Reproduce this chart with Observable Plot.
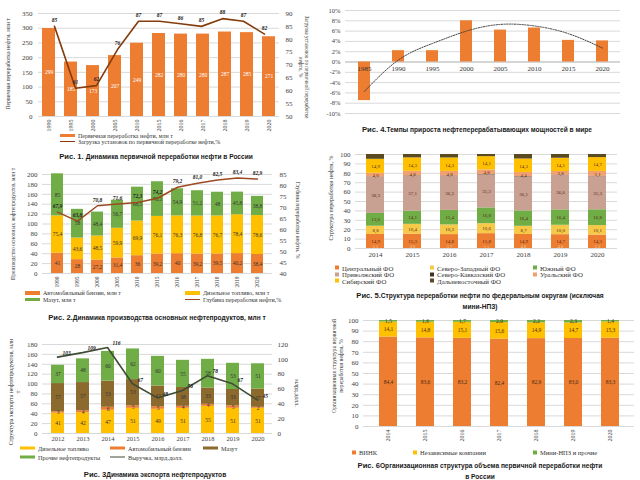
<!DOCTYPE html>
<html><head><meta charset="utf-8">
<script src="https://cdn.jsdelivr.net/npm/d3@7"></script>
<script src="https://cdn.jsdelivr.net/npm/@observablehq/plot@0.6"></script>
<style>
body{margin:0;background:#fff}
#root{position:relative;width:640px;height:480px;overflow:hidden;background:#fff;font-family:"Liberation Serif",serif}
</style></head><body><div id="root"></div><script>
// ---------- Fig. 1 ----------
const years1 = ["1990","1995","2000","2005","2010","2015","2016","2017","2018","2019","2020"];
const primary1 = [299,185,173,207,249,282,280,280,287,285,271];
const load1 = [85,61,62,76,87,87,86,85,88,87,82];
const legend1 = ["Первичная переработка нефти, млн т","Загрузка установок по первичной переработке нефти,%"];
// ---------- Fig. 4 ----------
const years4 = ["1985","1990","1995","2000","2005","2010","2015","2020"];
const growth4 = [-7.5,2.2,2.2,8.0,6.2,6.6,4.2,4.1];
const trend4 = [-5.7,0.4,3.6,6.0,7.3,7.0,5.5,2.7];
// ---------- Fig. 2 ----------
const years2 = ["1990","1995","2000","2005","2010","2015","2016","2017","2018","2019","2020"];
const gasoline2 = [41,28,27.2,31.4,36,39.2,40.0,39.2,39.5,40.2,38.4];
const diesel2 = [75.4,43.6,48.5,59.9,69.9,76.1,76.3,76.8,76.7,78.4,78.6];
const fuelOil2 = [85,58,48.4,56.7,68.5,70.1,54.9,51.2,48.0,45.8,38.8];
const depth2 = [67.9,63.8,70.8,71.6,72.3,74.2,79.2,81.0,82.5,83.4,82.9];
const series2 = ["Автомобильный бензин, млн т","Дизельное топливо, млн т","Мазут, млн т","Глубина переработки нефти,%"];
// ---------- Fig. 3 ----------
const years3 = ["2012","2013","2014","2015","2016","2017","2018","2019","2020"];
const diesel3 = [41,42,47,51,49,51,55,51,51];
const gasoline3 = [3,4,6,5,5,4,4,5,2];
const fuelOil3 = [57,57,53,53,42,38,33,33,37];
const other3 = [37,48,60,62,60,55,58,53,51];
const revenue3 = [103,109,116,67,48,58,78,67,45];
const series3 = ["Дизельное топливо","Автомобильный бензин","Мазут","Прочие нефтепродукты","Выручка, млрд.долл."];
// ---------- Fig. 5 ----------
const years5 = ["2014","2015","2016","2017","2018","2019","2020"];
const districts5 = ["Центральный ФО","Северо-Западный ФО","Южный ФО","Приволжский ФО","Северо-Кавказский ФО","Уральский ФО","Сибирский ФО","Дальневосточный ФО"];
const central5 = [14.9,15.3,14.8,15.8,14.9,14.7,14.3];
const northwest5 = [8.8,10.4,10.3,10.6,8.7,10.0,10.1];
const south5 = [13.6,14.1,15.4,16.8,16.4,16.4,16.8];
const volga5 = [38.3,37.1,36.3,35.2,36.1,36.6,35.3];
const caucasus5 = [0.4,0.4,0.4,0.4,0.4,0.4,0.4];
const ural5 = [4.0,4.8,4.8,4.8,4.4,3.8,5.1];
const siberia5 = [14.9,14.3,14.3,14.1,14.3,14.1,14.7];
const fareast5 = [5.1,3.6,3.7,2.3,4.8,4.0,3.3];
// ---------- Fig. 6 ----------
const years6 = ["2014","2015","2016","2017","2018","2019","2020"];
const vink6 = [84.4,83.6,83.2,82.4,82.9,83.0,83.3];
const indep6 = [14.1,14.8,15.1,15.6,14.9,14.7,15.3];
const mini6 = [1.5,1.6,1.7,2.0,2.2,2.3,1.4];
const series6 = ["ВИНК","Независимые компании","Мини-НПЗ и прочие"];

const root = document.getElementById("root");
const fmt = v => Number.isInteger(v) ? String(v) : v.toFixed(1).replace(".", ",");
const fmt1 = v => v.toFixed(1).replace(".", ",");
const serif = '"Liberation Serif", "Times New Roman", serif';
const sans = '"Liberation Sans", Arial, sans-serif';
const st = (fs) => ({fontFamily: serif, fontSize: fs + "px", background: "transparent", color: "#404040", overflow: "visible"});
function put(node, x, y){ node.style.position="absolute"; node.style.left=x+"px"; node.style.top=y+"px"; root.appendChild(node); return node; }
function el(html, css){ const d=document.createElement("div"); d.innerHTML=html; Object.assign(d.style,{position:"absolute",whiteSpace:"nowrap"},css); root.appendChild(d); return d; }
function vtext(html, cx, cy, rot, size){ el(html,{left:cx+"px",top:cy+"px",fontSize:size+"px",color:"#333",fontFamily:serif,transform:`translate(-50%,-50%) rotate(${rot}deg)`,lineHeight:"1.2",textAlign:"center"}); }
function legend(x, y, color, label, kind, size){
  const w = kind==="sq" ? 4 : 15, h = kind==="sq" ? 4 : (kind==="line" ? 1.6 : 3.2);
  const sw = `<span style="display:inline-block;width:${w}px;height:${h}px;background:${color};margin-right:3px;flex:none"></span>`;
  el(sw+label,{left:x+"px",top:y+"px",fontSize:size+"px",color:"#333",display:"flex",alignItems:"center",transform:"translateY(-50%)",fontFamily:serif});
}
function caption(num, text, cx, cy, w){
  el(`<span style="font-size:7.6px">${num}</span><span style="font-size:6.6px">${text}</span>`,
    {left:(cx-w/2)+"px",width:w+"px",top:cy+"px",transform:"translateY(-50%)",textAlign:"center",fontFamily:sans,fontWeight:"bold",color:"#1a1a1a",lineHeight:"8px"});
}
const grid = (ticks) => Plot.gridY(ticks, {stroke:"#d9d9d9", strokeOpacity:1});

// ================= Fig 1 =================
const d1 = years1.map((y,i)=>({year:y, v:primary1[i], load:load1[i]}));
const x1 = {domain: years1, paddingInner: 0.42, paddingOuter: 0.16};
const dim1 = {width:310, height:140, marginLeft:38, marginRight:31, marginTop:13, marginBottom:24};
put(Plot.plot({...dim1, style: st(7), x: x1, y:{domain:[0,350]},
  marks:[
    grid(d3.range(0,351,50)),
    Plot.axisY(d3.range(0,351,50), {tickSize:0, tickPadding:6, label:null}),
    Plot.axisX({tickRotate:-90, tickSize:0, tickPadding:3, label:null, fontSize:6}),
    Plot.barY(d1, {x:"year", y:"v", fill:"#ED7D31"}),
    Plot.text(d1, Plot.stackY({x:"year", y:"v", text:d=>fmt(d.v), fill:"white", fontSize:5.5}))
  ]}), 0, 0);
put(Plot.plot({...dim1, style: st(7), x:{...x1, axis:null}, y:{domain:[50,90]},
  marks:[
    Plot.axisY(d3.range(50,91,5), {anchor:"right", tickSize:0, tickPadding:6, label:null}),
    Plot.line(d1, {x:"year", y:"load", stroke:"#843C0C", strokeWidth:1.6}),
    Plot.text(d1, {x:"year", y:"load", text:d=>fmt(d.load), dy:-6, fontWeight:"bold", fontStyle:"italic", fontSize:5.5, fill:"#222"})
  ]}), 0, 0);
vtext("Первичная переработка нефти, млн т", 8, 64, -90, 5.8);
vtext("Загрузка установок по первичной переработке<br>нефти, %", 304, 67, 90, 5.2);
legend(60, 135.5, "#ED7D31", legend1[0], "bar", 6);
legend(60, 141.5, "#843C0C", legend1[1], "line", 6);
caption("Рис. 1. ", "Динамика первичной переработки нефти в России", 156, 155, 300);

// ================= Fig 4 =================
const d4 = years4.map((y,i)=>({year:y, v:growth4[i], t:trend4[i]}));
put(Plot.plot({width:320, height:125, marginLeft:25, marginRight:20, marginTop:10, marginBottom:12, style: st(6.5),
  x:{domain:years4, paddingInner:0.65, paddingOuter:0.35, axis:null}, y:{domain:[-10,10]},
  marks:[
    grid(d3.range(-10,11,2)),
    Plot.axisY(d3.range(-10,11,2), {tickSize:0, tickPadding:5, tickFormat:d=>d+"%", label:null}),
    Plot.ruleY([0], {stroke:"#bfbfbf"}),
    Plot.barY(d4, {x:"year", y:"v", fill:"#ED7D31"}),
    Plot.text(d4, {x:"year", y:()=>0, text:"year", dy:7, fontSize:7, fill:"#333"}),
    Plot.line(d4, {x:"year", y:"t", stroke:"#444", strokeWidth:1, strokeDasharray:"1.3,1.3", curve:"natural"})
  ]}), 320, 0);
caption("Рис. 4.", "Темпы прироста нефтеперерабатывающих мощностей в мире", 477, 128, 320);

// ================= Fig 2 =================
const d2 = years2.flatMap((y,i)=>[
  {year:y, s:series2[0], v:gasoline2[i]},
  {year:y, s:series2[1], v:diesel2[i]},
  {year:y, s:series2[2], v:fuelOil2[i]}]);
const l2 = years2.map((y,i)=>({year:y, v:depth2[i]}));
const x2 = {domain: years2, paddingInner:0.38, paddingOuter:0.17};
const dim2 = {width:310, height:125, marginLeft:42, marginRight:38, marginTop:9, marginBottom:17};
put(Plot.plot({...dim2, style: st(7), x:x2, y:{domain:[0,200]},
  color:{domain:series2.slice(0,3), range:["#ED7D31","#FFC000","#70AD47"]},
  marks:[
    grid(d3.range(0,201,20)),
    Plot.axisY(d3.range(0,201,20), {tickSize:0, tickPadding:5, label:null}),
    Plot.axisX({tickRotate:-90, tickSize:0, tickPadding:3, label:null, fontSize:5.5}),
    Plot.barY(d2, {x:"year", y:"v", fill:"s"}),
    Plot.text(d2, Plot.stackY({x:"year", y:"v", z:"s", text:d=>fmt(d.v), fontSize:5.5, fill:"#333"}))
  ]}), 0, 165);
put(Plot.plot({...dim2, style: st(7), x:{...x2, axis:null}, y:{domain:[40,85]},
  marks:[
    Plot.axisY(d3.range(40,86,5), {anchor:"right", tickSize:0, tickPadding:7, label:null}),
    Plot.line(l2, {x:"year", y:"v", stroke:"#9C4A22", strokeWidth:1.5}),
    Plot.text(l2, {x:"year", y:"v", text:d=>fmt1(d.v), dy:-6, fontWeight:"bold", fontStyle:"italic", fontSize:5.5, fill:"#222"})
  ]}), 0, 165);
vtext("Производство основных нефтепродуктов, млн т", 13, 224, -90, 5.5);
vtext("Глубина переработки нефти, %", 298, 220, 90, 5.8);
legend(25, 293, "#ED7D31", series2[0], "bar", 6);
legend(185, 293, "#FFC000", series2[1], "bar", 6);
legend(25, 299.5, "#70AD47", series2[2], "bar", 6);
legend(185, 299.5, "#9C4A22", series2[3], "line", 6);
caption("Рис. 2.", "Динамика производства основных нефтепродуктов, млн т", 157, 316, 300);

// ================= Fig 5 =================
const vals5 = [central5, northwest5, south5, volga5, caucasus5, ural5, siberia5, fareast5];
const colors5 = ["#ED7D31","#F7C948","#70AD47","#C9A193","#3E3426","#F0A071","#FFC000","#5A4A22"];
const d5 = years5.flatMap((y,i)=>districts5.map((s,k)=>({year:y, s, v:vals5[k][i]})));
const darkSet = new Set([districts5[4], districts5[7]]);
put(Plot.plot({width:320, height:125, marginLeft:35, marginRight:23, marginTop:14, marginBottom:17, style: st(7),
  x:{domain:years5, paddingInner:0.52, paddingOuter:0.24}, y:{domain:[0,100]},
  color:{domain:districts5, range:colors5},
  marks:[
    grid(d3.range(0,101,10)),
    Plot.axisY(d3.range(0,101,10), {tickSize:0, tickPadding:5, label:null}),
    Plot.axisX({tickSize:0, tickPadding:4, label:null}),
    Plot.barY(d5, {x:"year", y:"v", fill:"s"}),
    Plot.text(d5, Plot.stackY({x:"year", y:"v", z:"s", text:d=>fmt1(d.v), fontSize:5, fill:"#5a2a12",
      filter:d=>d.v>=2 && !darkSet.has(d.s)})),
    Plot.text(d5, Plot.stackY({x:"year", y:"v", z:"s", text:d=>fmt1(d.v), fontSize:4.5, fill:"#e6d7a8",
      filter:d=>d.v>=2 && darkSet.has(d.s)}))
  ]}), 320, 140);
vtext("Структура переработки нефти, %", 332, 198, -90, 6);
const lx5 = [335, 430, 533], ly5 = [267.5, 274, 280.7];
districts5.forEach((s,k)=>legend(lx5[k%3], ly5[Math.floor(k/3)], colors5[k], s, "sq", 6.8));
el(`<span style="font-size:7.6px">Рис. 5.</span><span style="font-size:6.6px">Структура переработки нефти по федеральным округам (исключая<br>мини-НПЗ)</span>`,
  {left:"320px",width:"320px",top:"300px",transform:"translateY(-50%)",textAlign:"center",fontFamily:sans,fontWeight:"bold",color:"#1a1a1a",lineHeight:"8px"});

// ================= Fig 3 =================
const series3bars = series3.slice(0,4);
const vals3 = [diesel3, gasoline3, fuelOil3, other3];
const colors3 = ["#FFC000","#ED7D31","#8C6A2E","#70AD47"];
const d3s = years3.flatMap((y,i)=>series3bars.map((s,k)=>({year:y, s, v:vals3[k][i]})));
const l3 = years3.map((y,i)=>({year:y, v:revenue3[i]}));
const x3 = {domain: years3, paddingInner:0.485, paddingOuter:0.3};
const dim3 = {width:310, height:125, marginLeft:42, marginRight:38, marginTop:24, marginBottom:12};
put(Plot.plot({...dim3, style: st(7), x:x3, y:{domain:[0,180]},
  color:{domain:series3bars, range:colors3},
  marks:[
    grid(d3.range(0,181,20)),
    Plot.axisY(d3.range(0,181,20), {tickSize:0, tickPadding:5, label:null}),
    Plot.axisX({tickSize:0, tickPadding:3, label:null, fontSize:6.5}),
    Plot.barY(d3s, {x:"year", y:"v", fill:"s"}),
    Plot.text(d3s, Plot.stackY({x:"year", y:"v", z:"s", text:d=>fmt(d.v), fontSize:5.5, fill:"#333"}))
  ]}), 0, 320);
put(Plot.plot({...dim3, style: st(7), x:{...x3, axis:null}, y:{domain:[0,120]},
  marks:[
    Plot.axisY(d3.range(0,121,20), {anchor:"right", tickSize:0, tickPadding:5, label:null}),
    Plot.line(l3, {x:"year", y:"v", stroke:"#3F4B35", strokeWidth:1.6}),
    Plot.text(l3, {x:"year", y:"v", text:d=>fmt(d.v), dy:-4, dx:5, textAnchor:"start", fontWeight:"bold", fontStyle:"italic", fontSize:5.5, fill:"#222"})
  ]}), 0, 320);
vtext("Структура экспорта нефтепродуктов, млн<br>т", 15, 392, -90, 6);
vtext("млрд.долл.", 296, 393, 90, 6);
legend(20, 448, colors3[0], series3[0], "bar", 6.2);
legend(110, 448, colors3[1], series3[1], "bar", 6.2);
legend(203, 448, colors3[2], series3[2], "bar", 6.2);
legend(20, 457, colors3[3], series3[3], "bar", 6.2);
legend(110, 457, "#3F4B35", series3[4], "line", 6.2);
caption("Рис. 3", "Динамика экспорта нефтепродуктов", 155, 473, 300);

// ================= Fig 6 =================
const vals6 = [vink6, indep6, mini6];
const colors6 = ["#ED7D31","#FFC000","#70AD47"];
const d6 = years6.flatMap((y,i)=>series6.map((s,k)=>({year:y, s, v:vals6[k][i]})));
put(Plot.plot({width:320, height:135, marginLeft:43, marginRight:6, marginTop:10, marginBottom:19, style: st(7),
  x:{domain:years6, paddingInner:0.52, paddingOuter:0.37}, y:{domain:[0,100]},
  color:{domain:series6, range:colors6},
  marks:[
    grid(d3.range(0,101,10)),
    Plot.axisY(d3.range(0,101,10), {tickSize:0, tickPadding:5, label:null}),
    Plot.axisX({tickRotate:-90, tickSize:0, tickPadding:3, label:null, fontSize:6}),
    Plot.barY(d6, {x:"year", y:"v", fill:"s"}),
    Plot.text(d6, Plot.stackY({x:"year", y:"v", z:"s", text:d=>fmt1(d.v), fontSize:5.5, fill:"#4a2a12"}))
  ]}), 320, 310);
vtext("Организационная структура первичной<br>переработки нефти, %", 338, 366, -90, 5.6);
legend(352, 452, colors6[0], series6[0], "sq", 6.5);
legend(413, 452, colors6[1], series6[1], "sq", 6.5);
legend(533, 452, colors6[2], series6[2], "sq", 6.5);
el(`<span style="font-size:7.6px">Рис. 6</span><span style="font-size:6.6px">Организационная структура объема первичной переработки нефти<br>в России</span>`,
  {left:"320px",width:"320px",top:"470px",transform:"translateY(-50%)",textAlign:"center",fontFamily:sans,fontWeight:"bold",color:"#1a1a1a",lineHeight:"8px"});
</script></body></html>
